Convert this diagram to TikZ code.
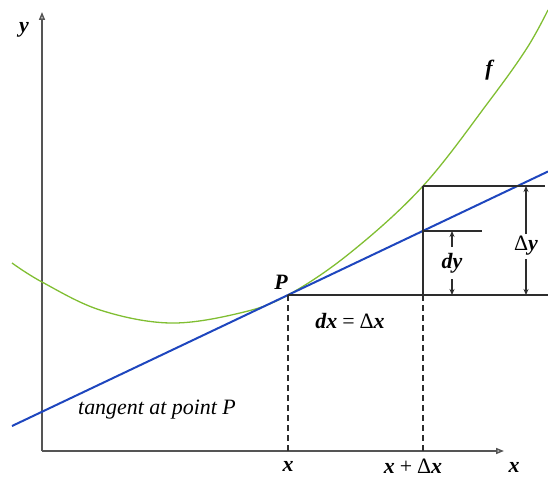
\documentclass[tikz,border=0pt]{standalone}
\usepackage{fontspec}
\setmainfont{Liberation Serif}
\usetikzlibrary{arrows.meta}
\definecolor{fgreen}{RGB}{128,190,50}
\definecolor{tblue}{RGB}{30,70,190}
\definecolor{axgray}{RGB}{85,85,85}
\definecolor{boxblack}{RGB}{45,45,45}
\newcommand{\upr}[1]{\textup{\mdseries #1}}
\tikzset{
  axisline/.style={draw=axgray, line width=1.5bp, -{Triangle[open,length=8bp,width=6bp]}},
  boxline/.style={draw=boxblack, line width=2bp},
  dashline/.style={draw=boxblack, line width=1.2bp, dash pattern=on 6bp off 4bp},
  curveline/.style={draw=fgreen, line width=1.3bp},
  tanline/.style={draw=tblue, line width=2bp},
  dimarrow/.style={draw=boxblack, line width=1.1bp, -{Stealth[length=6bp,width=5bp]}},
  lbl/.style={font=\fontsize{22}{25}\selectfont\bfseries\itshape, inner sep=1bp},
  lblplain/.style={font=\fontsize{22}{25}\selectfont\itshape, inner sep=1bp}
}
\begin{document}
\begin{tikzpicture}[x=1bp,y=-1bp]
\useasboundingbox (0,0) rectangle (548,477);
% axes
\coordinate (O) at (42,451);
\coordinate (ytop) at (42,12);
\coordinate (xend) at (504,451);
\draw[axisline] (O) -- (ytop);
\draw[axisline] (O) -- (xend);
% points
\coordinate (P) at (288,295);
\coordinate (Q) at (423,186);
\coordinate (T) at (423,231);
\coordinate (Pbase) at (288,451);
\coordinate (Qbase) at (423,451);
\coordinate (botR) at (548,295);
\coordinate (topR) at (545,186);
\coordinate (midR) at (482,231);
\coordinate (tanL) at (12,426);
\coordinate (tanR) at (548,171.5);
% curve f
\draw[curveline] plot[smooth, tension=0.6] coordinates {(12,263) (42,282) (100,310) (170,323) (240,313) (288,295) (350,253) (423,186) (490,100) (527,48) (548,10)};
% tangent
\draw[tanline] (tanL) -- (P) -- (tanR);
% dashed
\draw[dashline] (P) -- (Pbase);
\draw[dashline] (botR -| Q) -- (Qbase);
% box lines
\draw[boxline] (P) -- (botR);
\draw[boxline] (Q) -- (topR);
\draw[boxline] (Q) -- (botR -| Q);
\draw[boxline] (T) -- (midR);
% labels
\node[lbl] (ylab) at (24,30) {y};
\node[lbl] (xlab) at (514,467) {x};
\node[lbl] (x1lab) at (288,466) {x};
\node[lbl] (x2lab) at (413,466) {x\hspace{5bp}\upr{+}\hspace{5bp}\upr{Δ}x};
\node[lbl] (flab) at (489,70) {f};
\node[lbl] (Plab) at (281,282) {P};
\node[lbl] (dxlab) at (350,321) {dx\hspace{5bp}\upr{=}\hspace{5bp}\upr{Δ}x};
\node[lbl] (dylab) at (452,263) {dy};
\node[lbl] (Dylab) at (526,246) {\upr{Δ}y};
\node[lblplain] (tanlab) at (157,410) {tangent at point P};
% dimension arrows
\coordinate (dyA) at (452,247);
\coordinate (dyB) at (452,279);
\coordinate (DyA) at (526,234);
\coordinate (DyB) at (526,259);
\draw[dimarrow] (dyA) -- (dyA |- T);
\draw[dimarrow] (dyB) -- (dyB |- P);
\draw[dimarrow] (DyA) -- (DyA |- Q);
\draw[dimarrow] (DyB) -- (DyB |- P);
\end{tikzpicture}
\end{document}
